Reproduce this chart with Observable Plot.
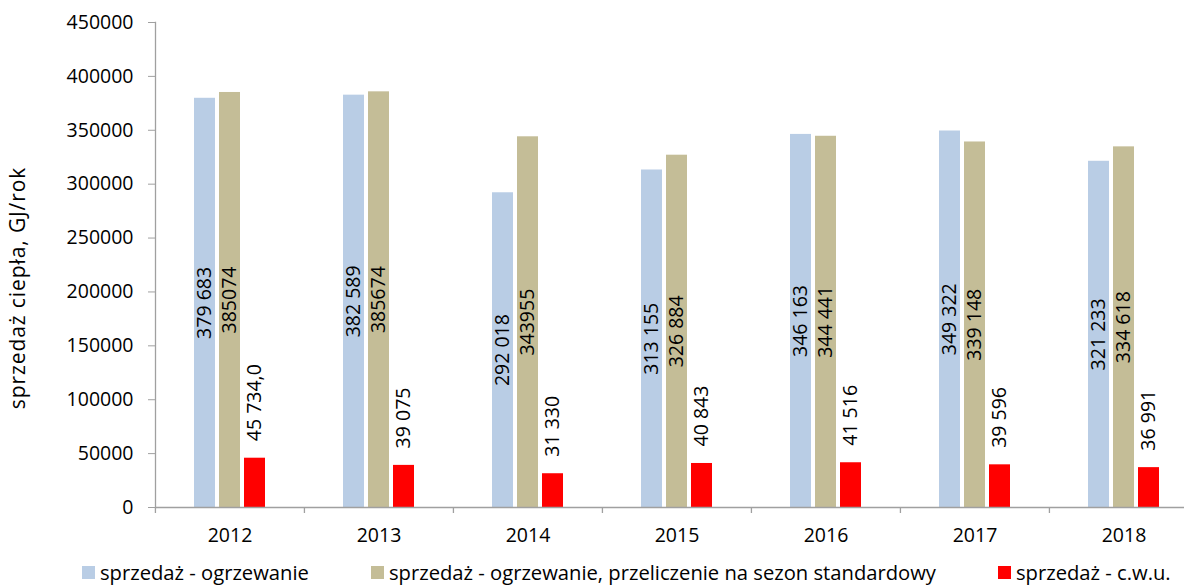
<!DOCTYPE html>
<html>
<head>
<meta charset="utf-8">
<script src="https://cdn.jsdelivr.net/npm/d3@7"></script>
<script src="https://cdn.jsdelivr.net/npm/@observablehq/plot@0.6"></script>
<style>
  html, body { margin: 0; padding: 0; background: white; }
  #wrap { position: relative; width: 1184px; height: 586px; overflow: hidden; font-family: "Open Sans", sans-serif; color: #000; }
  #ytitle { position: absolute; left: 17px; top: 288px; transform: translate(-50%, -50%) rotate(-90deg); white-space: nowrap; font-size: 21px; letter-spacing: 0.9px; line-height: 22px; }
  .leg { position: absolute; top: 561px; height: 22px; line-height: 21px; display: flex; align-items: center; font-size: 20.2px; white-space: nowrap; }
  .sw { width: 13px; height: 13px; margin-right: 5px; }
</style>
</head>
<body>
<div id="wrap"></div>
<script>
const years = ["2012", "2013", "2014", "2015", "2016", "2017", "2018"];
const seriesNames = [
  "sprzedaż - ogrzewanie",
  "sprzedaż - ogrzewanie, przeliczenie na sezon standardowy",
  "sprzedaż - c.w.u."
];
const ogrzewanie = [379683, 382589, 292018, 313155, 346163, 349322, 321233];
const przeliczenie = [385074, 385674, 343955, 326884, 344441, 339148, 334618];
const cwu = [45734.0, 39075, 31330, 40843, 41516, 39596, 36991];
const labelsOgrzewanie = ["379 683", "382 589", "292 018", "313 155", "346 163", "349 322", "321 233"];
const labelsPrzeliczenie = ["385074", "385674", "343955", "326 884", "344 441", "339 148", "334 618"];
const labelsCwu = ["45 734,0", "39 075", "31 330", "40 843", "41 516", "39 596", "36 991"];
const colors = ["#B9CDE5", "#C4BD97", "#FF0000"];
const yTicks = [0, 50000, 100000, 150000, 200000, 250000, 300000, 350000, 400000, 450000];
const yTitle = "sprzedaż ciepła, GJ/rok";

const valuesBySeries = [ogrzewanie, przeliczenie, cwu];
const labelsBySeries = [labelsOgrzewanie, labelsPrzeliczenie, labelsCwu];
const rows = [];
years.forEach((year, i) => {
  seriesNames.forEach((s, k) => {
    rows.push({year, series: s, value: valuesBySeries[k][i], label: labelsBySeries[k][i], k});
  });
});
const inside = rows.filter(d => d.k < 2);
const outside = rows.filter(d => d.k === 2);

const W = 1184, H = 556, ML = 154, MR = -14, MT = 22, MB = 49;
const step = (W - ML - MR) / years.length;
const gray = "#A0A0A0";

const chart = Plot.plot({
  width: W, height: H,
  marginLeft: ML, marginRight: MR, marginTop: MT, marginBottom: MB,
  style: {fontFamily: "'Open Sans', sans-serif", fontSize: "19.5px", color: "#000", background: "white", overflow: "visible"},
  fx: {domain: years, padding: 0, axis: null, label: null},
  x: {domain: seriesNames, paddingInner: 0.167, paddingOuter: 1.54, axis: null, label: null},
  y: {domain: [0, 450000], axis: null, label: null},
  color: {domain: seriesNames, range: colors},
  marks: [
    Plot.barY(rows, {fx: "year", x: "series", y: "value", fill: "series"}),
    Plot.ruleY([0], {stroke: gray, strokeWidth: 1.3}),
    Plot.frame({anchor: "left", facetAnchor: "left", stroke: gray, strokeWidth: 1.3}),
    Plot.axisY({ticks: yTicks, tickSize: 7, tickPadding: 15, tickFormat: d => String(d), stroke: gray, fill: "#000", label: null}),
    Plot.axisFx({anchor: "bottom", tickSize: 0, tickPadding: 21, label: null, fill: "#000"}),
    Plot.axisFx({anchor: "bottom", tickSize: 6, text: null, dx: -step / 2, label: null, stroke: gray, strokeWidth: 1.3}),
    Plot.text(inside, {fx: "year", x: "series", y: d => d.value / 2, text: "label", rotate: -90, fill: "#000"}),
    Plot.text(outside, {fx: "year", x: "series", y: "value", text: "label", rotate: -90, textAnchor: "start", dy: -17, fill: "#000"})
  ]
});

const wrap = document.getElementById("wrap");
wrap.appendChild(chart);

const yt = document.createElement("div");
yt.id = "ytitle";
yt.textContent = yTitle;
wrap.appendChild(yt);

const legLefts = [82, 371, 998];
seriesNames.forEach((s, k) => {
  const it = document.createElement("div");
  it.className = "leg";
  it.style.left = legLefts[k] + "px";
  const sw = document.createElement("div");
  sw.className = "sw";
  sw.style.background = colors[k];
  const tx = document.createElement("span");
  tx.textContent = s;
  it.appendChild(sw);
  it.appendChild(tx);
  wrap.appendChild(it);
});
</script>
</body>
</html>
